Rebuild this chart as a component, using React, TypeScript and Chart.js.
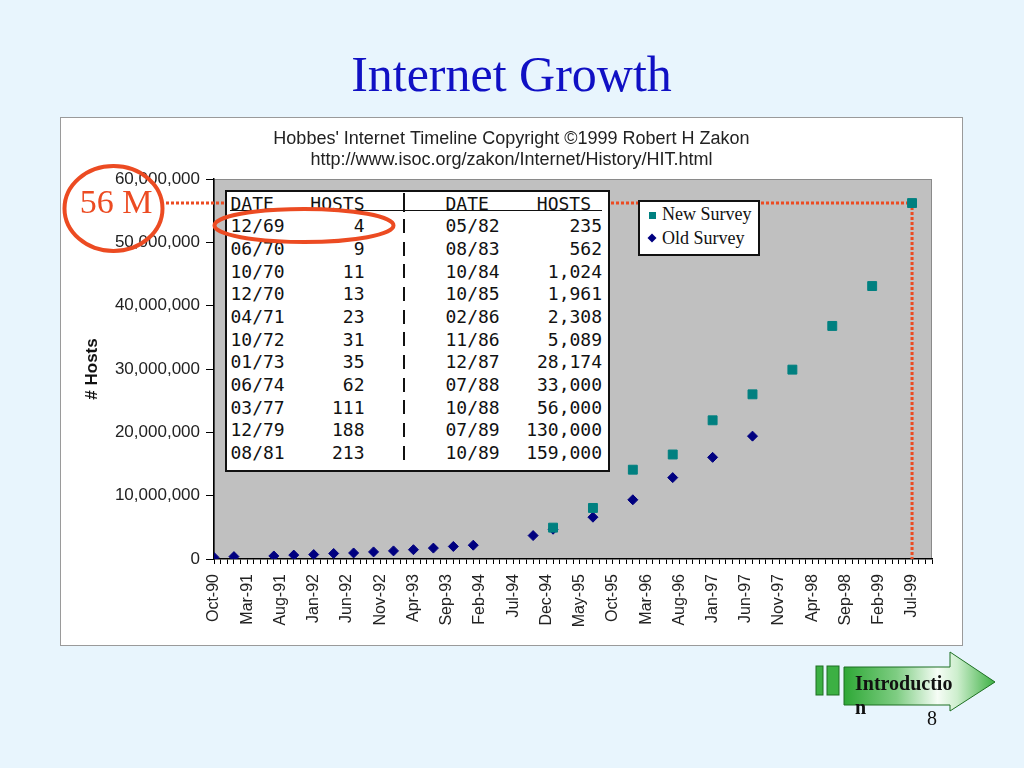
import React, { useEffect, useRef } from 'react';
import { Chart, registerables } from 'chart.js';

Chart.register(...registerables);

// ---------- data ----------
const MONTHS = ['Jan', 'Feb', 'Mar', 'Apr', 'May', 'Jun', 'Jul', 'Aug', 'Sep', 'Oct', 'Nov', 'Dec'];
const xAxisStart = 'Oct-90';
const xAxisEnd = 'Oct-99';
const xLabelEvery = 5; // months between labelled ticks
const xTickLabels = [
  'Oct-90', 'Mar-91', 'Aug-91', 'Jan-92', 'Jun-92', 'Nov-92', 'Apr-93', 'Sep-93', 'Feb-94', 'Jul-94', 'Dec-94',
  'May-95', 'Oct-95', 'Mar-96', 'Aug-96', 'Jan-97', 'Jun-97', 'Nov-97', 'Apr-98', 'Sep-98', 'Feb-99', 'Jul-99',
];
const yMin = 0;
const yMax = 60000000;
const yStep = 10000000;

const newSurveyDates = ['Jan-95', 'Jul-95', 'Jan-96', 'Jul-96', 'Jan-97', 'Jul-97', 'Jan-98', 'Jul-98', 'Jan-99', 'Jul-99'];
const newSurveyHosts = [4950000, 8060000, 14100000, 16500000, 21900000, 26000000, 29900000, 36800000, 43100000, 56200000];

const oldSurveyDates = [
  'Oct-90', 'Jan-91', 'Jul-91', 'Oct-91', 'Jan-92', 'Apr-92', 'Jul-92', 'Oct-92', 'Jan-93', 'Apr-93',
  'Jul-93', 'Oct-93', 'Jan-94', 'Oct-94', 'Jan-95', 'Jul-95', 'Jan-96', 'Jul-96', 'Jan-97', 'Jul-97',
];
const oldSurveyHosts = [
  250000, 376000, 480000, 617000, 700000, 870000, 950000, 1120000, 1280000, 1470000,
  1720000, 1980000, 2180000, 3700000, 4700000, 6600000, 9350000, 12850000, 16050000, 19400000,
];

const highlightDate = 'Jul-99';
const highlightHosts = 56200000;
const highlightLabel = '56 M';

const tableLeftDates = ['12/69', '06/70', '10/70', '12/70', '04/71', '10/72', '01/73', '06/74', '03/77', '12/79', '08/81'];
const tableLeftHosts = ['4', '9', '11', '13', '23', '31', '35', '62', '111', '188', '213'];
const tableRightDates = ['05/82', '08/83', '10/84', '10/85', '02/86', '11/86', '12/87', '07/88', '10/88', '07/89', '10/89'];
const tableRightHosts = ['235', '562', '1,024', '1,961', '2,308', '5,089', '28,174', '33,000', '56,000', '130,000', '159,000'];

const chartTitleLines = [
  "Hobbes' Internet Timeline Copyright \u00A91999 Robert H Zakon",
  'http://www.isoc.org/zakon/Internet/History/HIT.html',
];

// ---------- helpers ----------
function monthIndex(label: string): number {
  const [m, yy] = label.split('-');
  const [m0, yy0] = xAxisStart.split('-');
  return (Number(yy) - Number(yy0)) * 12 + (MONTHS.indexOf(m) - MONTHS.indexOf(m0));
}
function withCommas(v: number): string {
  return String(Math.round(v)).replace(/\B(?=(\d{3})+(?!\d))/g, ',');
}

// ---------- styling constants ----------
const PAGE_BG = '#E8F5FD';
const RED = '#EC4B22';
const TEAL = '#008080';
const NAVY = '#000080';
const CANVAS_LEFT = 61;
const CANVAS_TOP = 118;
const CANVAS_W = 901;
const CANVAS_H = 527;

const plotBgPlugin = {
  id: 'plotBg',
  beforeDraw(chart: any) {
    const { ctx, chartArea } = chart;
    ctx.save();
    ctx.fillStyle = '#C0C0C0';
    ctx.fillRect(chartArea.left, chartArea.top, chartArea.right - chartArea.left, chartArea.bottom - chartArea.top);
    ctx.strokeStyle = '#8a8a8a';
    ctx.lineWidth = 1;
    ctx.strokeRect(chartArea.left + 0.5, chartArea.top + 0.5, chartArea.right - chartArea.left - 1, chartArea.bottom - chartArea.top - 1);
    ctx.restore();
  },
};

const guidePlugin = {
  id: 'guide',
  beforeDatasetsDraw(chart: any) {
    const { ctx, scales } = chart;
    const px = scales.x.getPixelForValue(monthIndex(highlightDate));
    const py = scales.y.getPixelForValue(highlightHosts);
    const py0 = scales.y.getPixelForValue(yMin);
    ctx.save();
    ctx.strokeStyle = RED;
    ctx.lineWidth = 3;
    ctx.setLineDash([3, 2]);
    ctx.beginPath();
    ctx.moveTo(166 - CANVAS_LEFT, py);
    ctx.lineTo(px, py);
    ctx.lineTo(px, py0);
    ctx.stroke();
    ctx.restore();
  },
};

function ChartCanvas() {
  const ref = useRef<HTMLCanvasElement | null>(null);
  useEffect(() => {
    if (!ref.current) return;
    const chart = new Chart(ref.current, {
      type: 'scatter',
      data: {
        datasets: [
          {
            label: 'New Survey',
            data: newSurveyDates.map((d, i) => ({ x: monthIndex(d), y: newSurveyHosts[i] })),
            pointStyle: 'rect',
            pointRadius: 6.3,
            backgroundColor: TEAL,
            borderColor: TEAL,
            borderWidth: 1,
            yAxisID: 'y',
          },
          {
            label: 'Old Survey',
            data: oldSurveyDates.map((d, i) => ({ x: monthIndex(d), y: oldSurveyHosts[i] })),
            pointStyle: 'rectRot',
            pointRadius: 5,
            backgroundColor: NAVY,
            borderColor: NAVY,
            borderWidth: 1,
            yAxisID: 'y',
          },
        ],
      },
      options: {
        animation: false,
        responsive: false,
        layout: { padding: { left: 0, right: 0, top: 0, bottom: 0 } },
        plugins: {
          legend: { display: false },
          tooltip: { enabled: false },
          title: {
            display: true,
            text: chartTitleLines,
            color: '#222',
            font: { family: 'Liberation Sans', size: 18, weight: 'normal', lineHeight: '21px' },
            padding: { top: 11, bottom: 8 },
          },
        },
        scales: {
          x: {
            type: 'linear',
            min: monthIndex(xAxisStart),
            max: monthIndex(xAxisEnd),
            afterFit: (s: any) => { s.height = 86; },
            grid: { drawOnChartArea: false, drawTicks: true, tickLength: 5, color: '#000', lineWidth: 1 },
            border: { display: true, color: '#000', width: 1.5 },
            ticks: {
              stepSize: 1,
              maxTicksLimit: 500,
              autoSkip: false,
              minRotation: 90,
              maxRotation: 90,
              padding: 10,
              color: '#222',
              font: { family: 'Liberation Sans', size: 16 },
              callback: (v: any) => {
                const n = Number(v);
                return n % xLabelEvery === 0 ? xTickLabels[n / xLabelEvery] ?? '' : '';
              },
            },
          },
          y: {
            type: 'linear',
            position: 'left',
            min: yMin,
            max: yMax,
            afterFit: (s: any) => { s.width = 153; },
            grid: { drawOnChartArea: false, drawTicks: true, tickLength: 8, color: '#000', lineWidth: 1 },
            border: { display: true, color: '#000', width: 1.5 },
            title: {
              display: true,
              text: '# Hosts',
              color: '#111',
              font: { family: 'Liberation Sans', size: 17, weight: 'bold' },
              padding: { top: 21, bottom: 0 },
            },
            ticks: {
              stepSize: yStep,
              padding: 6,
              color: '#222',
              font: { family: 'Liberation Sans', size: 17 },
              callback: (v: any) => withCommas(Number(v)),
            },
          },
          // empty right-hand margin of the plot, kept as an invisible axis so the title stays centred on the canvas
          yRight: {
            type: 'linear',
            position: 'right',
            min: yMin,
            max: yMax,
            afterFit: (s: any) => { s.width = 30; },
            grid: { display: false },
            border: { display: false },
            ticks: { display: false },
          },
        },
      },
      plugins: [plotBgPlugin, guidePlugin],
    } as any);
    return () => chart.destroy();
  }, []);
  return (
    <canvas
      ref={ref}
      width={CANVAS_W}
      height={CANVAS_H}
      style={{ position: 'absolute', left: 0, top: 0, width: CANVAS_W, height: CANVAS_H }}
    />
  );
}

const rowCenters = (i: number) => 226 + i * 22.67;

function HostTable() {
  const mono: React.CSSProperties = {
    position: 'absolute',
    fontFamily: '"DejaVu Sans Mono", "Liberation Mono", monospace',
    fontSize: 18,
    lineHeight: '22px',
    height: 22,
    color: '#111',
    whiteSpace: 'pre',
  };
  const cells: React.ReactNode[] = [];
  const header = 203.3;
  cells.push(<div key="h1" style={{ ...mono, left: 230.5, top: header - 10.7 }}>DATE</div>);
  cells.push(<div key="h2" style={{ ...mono, left: 264, width: 100.5, textAlign: 'right', top: header - 10.7 }}>HOSTS</div>);
  cells.push(<div key="h3" style={{ ...mono, left: 445.5, top: header - 10.7 }}>DATE</div>);
  cells.push(<div key="h4" style={{ ...mono, left: 490, width: 101, textAlign: 'right', top: header - 10.7 }}>HOSTS</div>);
  cells.push(<div key="hb" style={{ position: 'absolute', left: 403, top: 193, width: 2, height: 19, background: '#111' }} />);
  cells.push(<div key="hl" style={{ position: 'absolute', left: 230, top: 209.5, width: 372, height: 1.5, background: '#111' }} />);
  tableLeftDates.forEach((d, i) => {
    const top = rowCenters(i) - 10.7;
    cells.push(<div key={'ld' + i} style={{ ...mono, left: 230.5, top }}>{d}</div>);
    cells.push(<div key={'lh' + i} style={{ ...mono, left: 264, width: 100.5, textAlign: 'right', top }}>{tableLeftHosts[i]}</div>);
    cells.push(<div key={'b' + i} style={{ position: 'absolute', left: 403, top: rowCenters(i) - 7, width: 2, height: 14, background: '#111' }} />);
    cells.push(<div key={'rd' + i} style={{ ...mono, left: 445.5, top }}>{tableRightDates[i]}</div>);
    cells.push(<div key={'rh' + i} style={{ ...mono, left: 480, width: 122, textAlign: 'right', top }}>{tableRightHosts[i]}</div>);
  });
  return (
    <>
      <div style={{ position: 'absolute', left: 225, top: 190, width: 385, height: 282, border: '2px solid #111', boxSizing: 'border-box', background: '#fff' }} />
      {cells}
    </>
  );
}

function Legend() {
  const txt: React.CSSProperties = {
    position: 'absolute',
    fontFamily: '"Liberation Serif", serif',
    fontSize: 18,
    lineHeight: '20px',
    color: '#111',
    whiteSpace: 'pre',
  };
  return (
    <>
      <div style={{ position: 'absolute', left: 638, top: 200, width: 122, height: 56, border: '2px solid #111', boxSizing: 'border-box', background: '#fff' }} />
      <div style={{ position: 'absolute', left: 648.5, top: 211.5, width: 7, height: 7, background: TEAL }} />
      <svg style={{ position: 'absolute', left: 646, top: 232 }} width={12} height={12}>
        <polygon points="6,1.5 10.5,6 6,10.5 1.5,6" fill={NAVY} />
      </svg>
      <div style={{ ...txt, left: 662, top: 203.5 }}>New Survey</div>
      <div style={{ ...txt, left: 662, top: 228 }}>Old Survey</div>
    </>
  );
}

function NavArrow() {
  return (
    <>
      <svg style={{ position: 'absolute', left: 800, top: 640 }} width={224} height={100}>
        <defs>
          <linearGradient id="navg" gradientUnits="userSpaceOnUse" x1="44" x2="195" y1="0" y2="0">
            <stop offset="0" stopColor="#2ea836" />
            <stop offset="0.35" stopColor="#7fcd83" />
            <stop offset="0.62" stopColor="#f6fdf6" />
            <stop offset="0.75" stopColor="#cdeecd" />
            <stop offset="1" stopColor="#3cb043" />
          </linearGradient>
        </defs>
        <rect x={16} y={26} width={7} height={29} fill="#3cb043" stroke="#1d6f22" strokeWidth={1} />
        <rect x={27} y={26} width={12} height={29} fill="#3cb043" stroke="#1d6f22" strokeWidth={1} />
        <polygon points="44,27 150,27 150,12 195,42 150,71 150,65 44,65" fill="url(#navg)" stroke="#1d6f22" strokeWidth={1} />
      </svg>
      <div style={{ position: 'absolute', left: 855, top: 672.5, fontFamily: '"Liberation Serif", serif', fontWeight: 'bold', fontSize: 20, lineHeight: '20px', color: '#111', whiteSpace: 'pre' }}>Introductio</div>
      <div style={{ position: 'absolute', left: 855, top: 696.5, fontFamily: '"Liberation Serif", serif', fontWeight: 'bold', fontSize: 20, lineHeight: '20px', color: '#111' }}>n</div>
      <div style={{ position: 'absolute', left: 927, top: 707.5, fontFamily: '"Liberation Serif", serif', fontSize: 20, lineHeight: '20px', color: '#111' }}>8</div>
    </>
  );
}

export default function App() {
  return (
    <div
      style={{
        position: 'absolute',
        left: 0,
        top: 0,
        width: 1024,
        height: 768,
        overflow: 'hidden',
        background: PAGE_BG,
        fontFamily: '"Liberation Sans", Arial, sans-serif',
      }}
    >
      <div
        style={{
          position: 'absolute',
          left: 0,
          top: 49,
          width: 1023,
          textAlign: 'center',
          fontFamily: '"Liberation Serif", serif',
          fontSize: 50,
          lineHeight: '50px',
          color: '#1010C4',
        }}
      >
        Internet Growth
      </div>
      <div
        style={{
          position: 'absolute',
          left: CANVAS_LEFT - 1,
          top: CANVAS_TOP - 1,
          width: CANVAS_W + 2,
          height: CANVAS_H + 2,
          border: '1px solid #9a9a9a',
          boxSizing: 'border-box',
          background: '#fff',
        }}
      />
      <div style={{ position: 'absolute', left: CANVAS_LEFT, top: CANVAS_TOP, width: CANVAS_W, height: CANVAS_H }}>
        <ChartCanvas />
      </div>
      <HostTable />
      <Legend />
      <svg style={{ position: 'absolute', left: 0, top: 0, pointerEvents: 'none' }} width={1024} height={768}>
        <ellipse cx={113.5} cy={208.5} rx={49} ry={42.5} fill="none" stroke={RED} strokeWidth={4} />
        <ellipse cx={304} cy={225.5} rx={89.5} ry={16.5} fill="none" stroke={RED} strokeWidth={4} />
      </svg>
      <div
        style={{
          position: 'absolute',
          left: 66,
          top: 184.5,
          width: 100,
          textAlign: 'center',
          fontFamily: '"Liberation Serif", serif',
          fontSize: 34,
          lineHeight: '34px',
          color: RED,
          whiteSpace: 'pre',
        }}
      >
        {highlightLabel}
      </div>
      <NavArrow />
    </div>
  );
}
